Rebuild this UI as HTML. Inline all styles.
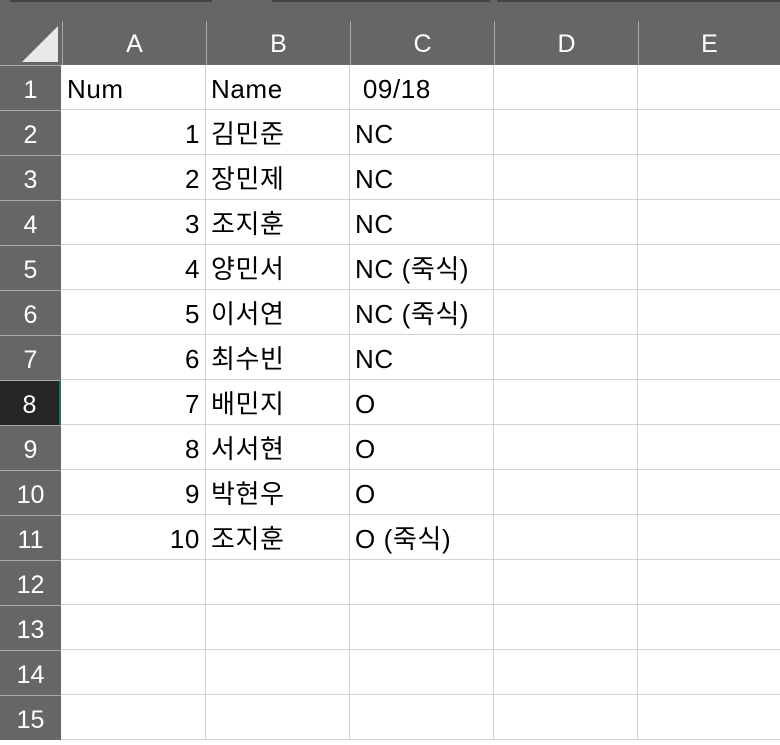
<!DOCTYPE html>
<html><head><meta charset="utf-8">
<style>
body{margin:0;width:780px;height:740px;overflow:hidden;background:#fff;font-family:"Liberation Sans","Noto Sans CJK KR",sans-serif;position:relative}
.a{position:absolute;box-sizing:border-box}
.t{font-size:26px;color:#000;line-height:48px;white-space:nowrap;letter-spacing:0.6px}
.h{color:#fff;font-size:25px;text-align:center}
</style></head>
<body>
<div class="a" style="left:0;top:0;width:780px;height:65px;background:#666"></div>
<div class="a" style="left:10px;top:0;width:202px;height:2px;background:#444"></div>
<div class="a" style="left:272px;top:0;width:218px;height:2px;background:#444"></div>
<div class="a" style="left:497px;top:0;width:283px;height:2px;background:#444"></div>
<div class="a" style="left:0;top:65px;width:61px;height:675px;background:#666"></div>
<svg class="a" style="left:20px;top:24px" width="40" height="40"><polygon points="38,2 38,38 2,38" fill="#e8e8e8"/></svg>
<div id="g"></div>
<script>
const colX=[62,206,350,494,638,780];
const colNames=['A','B','C','D','E'];
const rowTop=65,rowH=45,nRows=15;
const cells=[
['Num','Name',' 09/18'],
[1,'김민준','NC'],[2,'장민제','NC'],[3,'조지훈','NC'],[4,'양민서','NC (죽식)'],[5,'이서연','NC (죽식)'],
[6,'최수빈','NC'],[7,'배민지','O'],[8,'서서현','O'],[9,'박현우','O'],[10,'조지훈','O (죽식)']
];
const g=document.getElementById('g');
function add(html){const d=document.createElement('div');d.innerHTML=html;const e=d.firstChild;g.appendChild(e);return e;}
for(let i=0;i<5;i++){
 const e=add(`<div class="a h" style="left:${colX[i]}px;top:21px;width:${colX[i+1]-colX[i]}px;height:44px;line-height:46px;border-left:1px solid #a8a8a8">${colNames[i]}</div>`);
 
 
}
for(let i=1;i<5;i++){
 const e=add(`<div class="a" style="left:${colX[i]-1}px;top:65px;width:1px;height:675px;background:#d4d4d4"></div>`);
 
 
}
for(let r=0;r<nRows;r++){
 const y=rowTop+r*rowH;
 const hl=r===7;
 const rh=add(`<div class="a h" style="left:0;top:${y}px;width:61px;height:${rowH}px;line-height:${rowH+4}px;background:${hl?'#262626':'#666'};border-top:1px solid #a8a8a8;${hl?'border-right:2px solid #217346;':''}">${r+1}</div>`);
 
 
 const gl=add(`<div class="a" style="left:61px;top:${y+rowH-1}px;width:719px;height:1px;background:#d4d4d4"></div>`);
 
 
 const row=cells[r];
 if(!row)continue;
 row.forEach((v,c)=>{
  const right=typeof v==='number';
  const e=add(`<div class="a t" style="left:${colX[c]+5}px;top:${y}px;width:${colX[c+1]-colX[c]-11}px;text-align:${right?'right':'left'};white-space:pre">${v}</div>`);
  
  
 });
}
</script>
</body></html>
